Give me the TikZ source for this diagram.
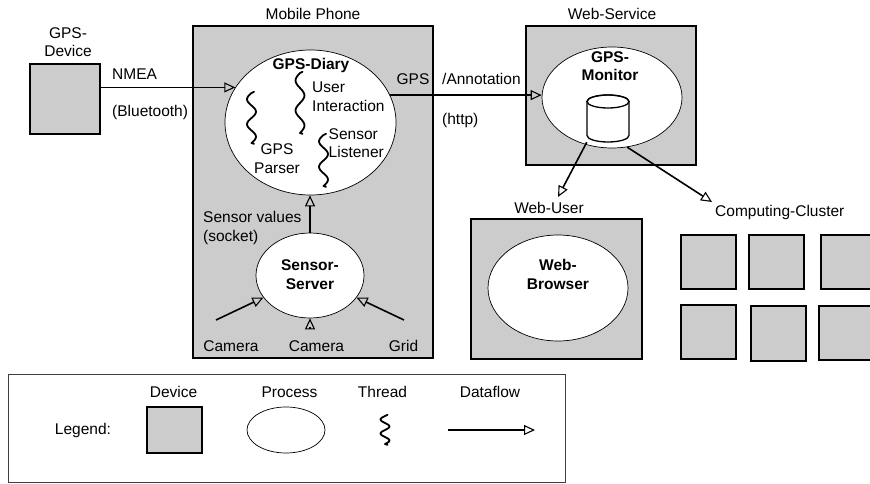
\documentclass[tikz,border=0pt]{standalone}
\usepackage{fontspec}
\setmainfont{Liberation Sans}
\usetikzlibrary{arrows.meta,shapes.geometric}
\definecolor{devgray}{RGB}{204,204,204}
\begin{document}
\begin{tikzpicture}[x=1pt,y=-1pt,
  every node/.style={font=\fontsize{15.5}{18.5}\selectfont, inner sep=0pt},
  device/.style={draw, line width=1.5pt, fill=devgray, inner sep=0pt},
  process/.style={ellipse, draw, line width=0.7pt, fill=white, inner sep=0pt},
  flow/.style={line width=1.6pt, -{Triangle[open, length=11pt, width=10pt, line width=1.1pt]}},
  thinflow/.style={line width=1.1pt, -{Triangle[open, length=11pt, width=10pt, line width=1.1pt]}},
  threadp/.pic={\draw[line width=1.8pt, line cap=round, line join=round]
     (2.5,-1.2) -- plot[smooth, samples=33, domain=0:1, variable=\t] ({-4.5*sin(720*\t)}, {#1*\t}) -- ++(2.5,0.8);}
]
\clip (0,0) rectangle (870,484);
\useasboundingbox (0,0) rectangle (870,484);
\fill[white] (0,0) rectangle (870,484);

% devices
\node[device, minimum width=70, minimum height=70] (gpsdev) at (65,99) {};
\node[device, minimum width=240, minimum height=332] (phone) at (313,192) {};
\node[device, minimum width=170, minimum height=139] (websvc) at (611,95.5) {};
\node[device, minimum width=171, minimum height=140] (webuser) at (556.5,289) {};
\node[device, minimum width=55, minimum height=54] (c1) at (708.5,262) {};
\node[device, minimum width=55, minimum height=54] (c2) at (776.5,262) {};
\node[device, minimum width=55, minimum height=54] (c3) at (848.5,262) {};
\node[device, minimum width=55, minimum height=54] (c4) at (708.5,332) {};
\node[device, minimum width=55, minimum height=55] (c5) at (778.5,333.5) {};
\node[device, minimum width=55, minimum height=54] (c6) at (846.5,333) {};

% processes
\node[process, minimum width=171, minimum height=145] (gpsdiary) at (310.5,122.5) {};
\node[process, minimum width=140, minimum height=101] (gpsmon) at (612,97.5) {};
\node[process, minimum width=108, minimum height=85] (sserver) at (310,275.5) {};
\node[process, minimum width=140, minimum height=106] (browser) at (558,288) {};

% database cylinder
\node[minimum width=42, minimum height=47] (cyl) at (608,118.5) {};
\filldraw[fill=white, line width=1.3pt] (587,101.5) -- (587,135.5) arc[start angle=180, end angle=360, x radius=21, y radius=-6.5] -- (629,101.5) arc[start angle=0, end angle=180, x radius=21, y radius=-6.5] -- cycle;
\draw[line width=1.3pt] (608,101.5) ellipse[x radius=21, y radius=6.5];

% threads
\pic at (251.5,93) {threadp=50};
\pic at (300,73) {threadp=60};
\pic at (323.5,135) {threadp=51};

% labels
\node[align=center] (tgpsdev) at (68,42) {GPS-\\Device};
\node (tphone) at (313,14) {Mobile Phone};
\node (tws) at (612,14) {Web-Service};
\node[anchor=west] (tnmea) at (112,74) {NMEA};
\node[anchor=west] (tbt) at (112,112.5) {(Bluetooth)};
\node (tgps) at (413,79) {GPS};
\node[anchor=west] (tanno) at (442,79) {/Annotation};
\node[anchor=west] (thttp) at (442,120.5) {(http)};
\node (tdiary) at (311,65) {\textbf{GPS-Diary}};
\node[align=left, anchor=west] (tuser) at (312,96.5) {User\\Interaction};
\node[align=center] (tparser) at (277,158.5) {GPS\\Parser};
\node[align=left, anchor=west] (tlisten) at (328.5,143) {Sensor\\Listener};
\node[align=left, anchor=west] (tsvals) at (203,228) {Sensor values\\(socket)};
\node[align=center] (tsserver) at (310,274.5) {\textbf{Sensor-}\\\textbf{Server}};
\node (tcam1) at (231,346) {Camera};
\node (tcam2) at (316.5,346) {Camera};
\node (tgrid) at (403.5,346) {Grid};
\node[align=center] (tmon) at (610,66) {\textbf{GPS-}\\\textbf{Monitor}};
\node (twu) at (549,207.5) {Web-User};
\node[anchor=west] (tcc) at (715,212.5) {Computing-Cluster};
\node[align=center] (tbrowser) at (558,274.5) {\textbf{Web-}\\\textbf{Browser}};

% connectors
\draw[flow] (gpsdev.east |- gpsdiary.155.4) -- (gpsdiary.155.4);
\draw[flow] (gpsdiary.19.9) -- (gpsdiary.19.9 -| gpsmon.west);
\draw[flow] (sserver.north) -- (sserver.north |- gpsdiary.south);
\coordinate (cam1) at (216,320);
\coordinate (cam2) at (310,327);
\coordinate (cam3) at (404,320);
\draw[flow] (cam1) -- (sserver);
\draw[thinflow] (cam2) -- (sserver);
\draw[flow] (cam3) -- (sserver);
\coordinate (wutip) at (558,197);
\coordinate (cctip) at (712,202);
\draw[flow] (cyl.south west) -- (wutip);
\draw[flow] (gpsmon.-73) -- (cctip);

% legend
\node[draw=black!75, line width=0.8pt, minimum width=557, minimum height=108] (legend) at (286.5,428) {};
\node (tlegend) at (83,430) {Legend:};
\node (tldev) at (173.5,392) {Device};
\node (tlproc) at (289.5,392) {Process};
\node (tlthr) at (382.5,392) {Thread};
\node (tlflow) at (490,392) {Dataflow};
\node[device, minimum width=55, minimum height=46] (ldev) at (174.5,430) {};
\node[process, minimum width=78, minimum height=46] (lproc) at (286,430) {};
\pic at (385,416) {threadp=28};
\coordinate (lfa) at (448,430);
\coordinate (lfb) at (535,430);
\draw[thinflow] (lfa) -- (lfb);
\end{tikzpicture}
\end{document}
